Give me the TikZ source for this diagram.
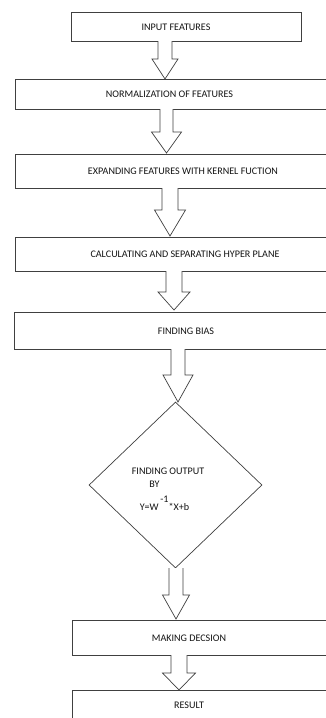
\documentclass[tikz,border=0pt]{standalone}
\usepackage{fontspec}
\setmainfont{Carlito}
\usetikzlibrary{shapes.geometric}
\definecolor{lineclr}{gray}{0.25}
\definecolor{txtclr}{gray}{0.08}
\tikzset{
  box/.style={draw=lineclr, line width=0.8pt},
  lbl/.style={text=txtclr, font=\fontsize{10.1}{12}\selectfont, inner sep=0pt, anchor=center},
  barrow/.style={draw=lineclr, line width=0.7pt, fill=white, line join=miter},
}
% block arrow: #1 x-centre, #2 from y, #3 to y (tip), #4 shaft half, #5 head half, #6 head start y
\newcommand{\blockarr}[6]{%
  \draw[barrow] (#1-#4,#2) -- (#1-#4,#6) -- (#1-#5,#6) -- (#1,#3) -- (#1+#5,#6) -- (#1+#4,#6) -- (#1+#4,#2);
}
\begin{document}
\begin{tikzpicture}[x=1pt,y=-1pt]
\clip (0,0) rectangle (326,718);
\fill[white] (0,0) rectangle (326,718);

% boxes
\draw[box] (71,12) rectangle (301,41);
\node[lbl] (t1) at (176,27) {INPUT FEATURES};

\draw[box] (340,79) -- (15,79) -- (15,109) -- (340,109);
\node[lbl] (t2) at (169.5,94) {NORMALIZATION OF FEATURES};

\draw[box] (340,154) -- (15,154) -- (15,188) -- (340,188);
\node[lbl] (t3) at (183,171) {EXPANDING FEATURES WITH KERNEL FUCTION};

\draw[box] (340,237) -- (15,237) -- (15,271) -- (340,271);
\node[lbl] (t4) at (185,254) {CALCULATING AND SEPARATING HYPER PLANE};

\draw[box] (340,312) -- (14,312) -- (14,349) -- (340,349);
\node[lbl] (t5) at (186,331) {FINDING BIAS};

% diamond
\node[draw=lineclr, line width=0.7pt, diamond, minimum width=173pt, minimum height=166pt, inner sep=0pt, text width=0pt] (d) at (175.5,485) {};
\node[lbl] (d1) at (168,471) {FINDING OUTPUT};
\node[lbl] (d2) at (154.5,484) {BY};
\node[lbl] (d3) at (164.5,503) {Y=W\,\raisebox{8pt}{-1}*X+b};

\draw[box] (340,620) -- (72,620) -- (72,655) -- (340,655);
\node[lbl] (t7) at (189,638) {MAKING DECSION};

\draw[box] (340,690) -- (72,690) -- (72,730);
\node[lbl] (t8) at (189,705) {RESULT};

% block arrows
\blockarr{165}{41}{79}{7}{13}{59}
\blockarr{166.5}{109}{153}{6.5}{15}{132}
\blockarr{170}{188}{236}{8}{15.5}{210}
\blockarr{174}{271}{310}{8}{16}{292}
\blockarr{178}{349}{402}{7}{15}{375}
\blockarr{176}{568}{619}{7}{13.5}{595}
\blockarr{179}{655}{690}{8}{16.5}{673}
\end{tikzpicture}
\end{document}
